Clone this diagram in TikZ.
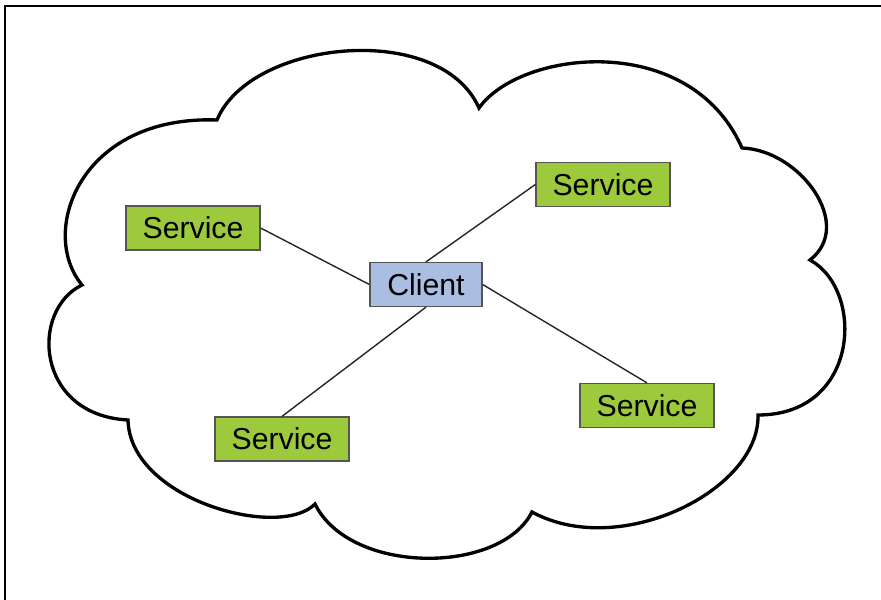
\documentclass[tikz,border=0pt]{standalone}
\usepackage{fontspec}
\setmainfont{Liberation Sans}
\definecolor{svcgreen}{RGB}{156,202,60}
\definecolor{clientblue}{RGB}{170,190,225}
\definecolor{boxline}{RGB}{85,85,85}
\begin{document}
\begin{tikzpicture}[x=0.01cm, y=-0.01cm,
  svcbox/.style={draw=boxline, line width=0.35pt, fill=svcgreen, minimum width=1.34cm, minimum height=0.44cm, inner sep=0pt, font=\fontsize{8.6}{10}\selectfont},
  clientbox/.style={svcbox, fill=clientblue, minimum width=1.12cm},
  link/.style={line width=0.4pt, draw=black!85}]
\useasboundingbox (0,0) rectangle (881,600);
\draw[line width=0.45pt] (5,600) -- (5,6) -- (881,6);
% cloud
\draw[line width=0.95pt, line join=miter]
  (217,120) .. controls (250,40) and (440,20) .. (479,108)
  .. controls (520,50) and (690,30) .. (742,148)
  .. controls (800,150) and (855,225) .. (810,260)
  .. controls (865,290) and (860,415) .. (758,415)
  .. controls (760,490) and (620,560) .. (532,512)
  .. controls (500,575) and (350,575) .. (315,504)
  .. controls (280,540) and (130,500) .. (128,420)
  .. controls (35,415) and (30,310) .. (82,285)
  .. controls (38,232) and (80,115) .. cycle;
\node[clientbox] (client) at (426,284.5) {Client};
\node[svcbox] (svcA) at (193,228) {Service};
\node[svcbox] (svcB) at (603,184.5) {Service};
\node[svcbox] (svcC) at (282,439) {Service};
\node[svcbox] (svcD) at (647,405.5) {Service};
\draw[link] (svcA.east) -- (client.west);
\draw[link] (client.north) -- (svcB.west);
\draw[link] (client.south) -- (svcC.north);
\draw[link] (client.east) -- (svcD.north);
\end{tikzpicture}
\end{document}
